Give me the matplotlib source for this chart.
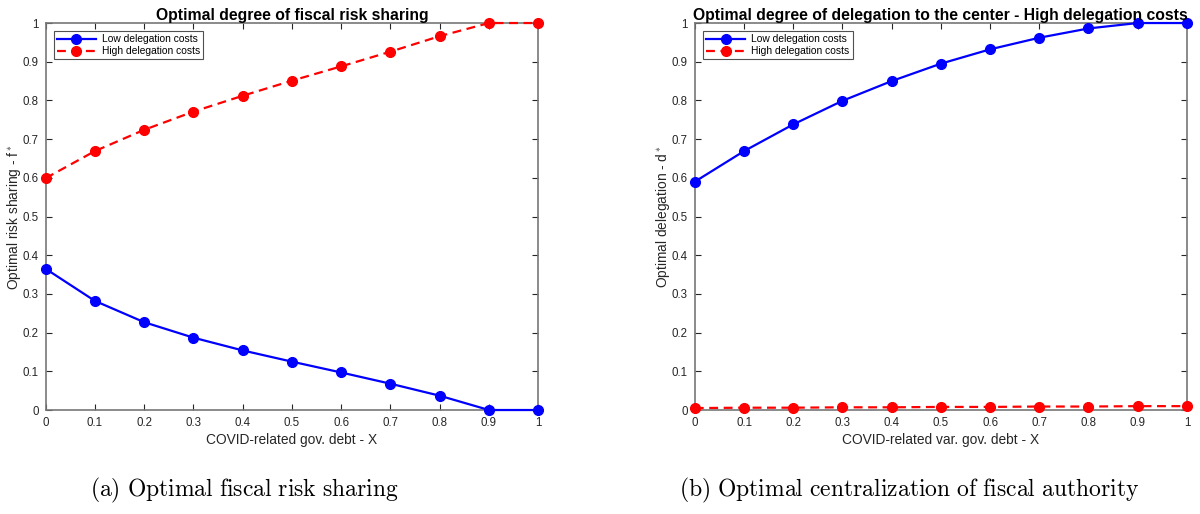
import numpy as np
import matplotlib.pyplot as plt

plt.rcParams['font.family'] = ['Liberation Sans', 'DejaVu Sans']
plt.rcParams['mathtext.fontset'] = 'cm'

x = [0, 0.1, 0.2, 0.3, 0.4, 0.5, 0.6, 0.7, 0.8, 0.9, 1.0]

# panel (a): optimal risk sharing
risk_low = [0.365, 0.282, 0.227, 0.187, 0.154, 0.125, 0.097, 0.068, 0.037, 0.0, 0.0]
risk_high = [0.599, 0.669, 0.724, 0.771, 0.812, 0.851, 0.888, 0.926, 0.966, 1.0, 1.0]

# panel (b): optimal delegation
deleg_low = [0.590, 0.669, 0.738, 0.799, 0.850, 0.895, 0.932, 0.962, 0.986, 1.0, 1.0]
deleg_high = [0.005, 0.006, 0.006, 0.007, 0.007, 0.008, 0.008, 0.009, 0.009, 0.010, 0.010]

ticks = [0, 0.1, 0.2, 0.3, 0.4, 0.5, 0.6, 0.7, 0.8, 0.9, 1]
tick_labels = ['0', '0.1', '0.2', '0.3', '0.4', '0.5', '0.6', '0.7', '0.8', '0.9', '1']

fig = plt.figure(figsize=(12, 5.14), dpi=100)
ax1 = fig.add_axes([0.038, 0.2023, 0.4105, 0.7529])
ax2 = fig.add_axes([0.579, 0.2023, 0.4101, 0.7529])

panels = [
    (ax1, risk_low, risk_high, 'Optimal degree of fiscal risk sharing',
     'COVID-related gov. debt - X', r'Optimal risk sharing - f$^*$'),
    (ax2, deleg_low, deleg_high, 'Optimal degree of delegation to the center - High delegation costs',
     'COVID-related var. gov. debt - X', r'Optimal delegation - d$^*$'),
]

axis_col = '#262626'
for ax, low, high, title, xlab, ylab in panels:
    ax.plot(x, low, '-o', color='blue', lw=1.6, ms=7, label='Low delegation costs', clip_on=False, zorder=3)
    ax.plot(x, high, '--o', color='red', lw=1.6, ms=7, dashes=(4, 2.5), label='High delegation costs', clip_on=False, zorder=3)
    ax.set_xlim(0, 1)
    ax.set_ylim(0, 1)
    ax.set_xticks(ticks)
    ax.set_xticklabels(tick_labels)
    ax.set_yticks(ticks)
    ax.set_yticklabels(tick_labels)
    ax.tick_params(direction='in', top=True, right=True, labelsize=8.3, length=4,
                   colors='#262626', labelcolor='#262626', pad=5)
    for s in ax.spines.values():
        s.set_color('#777777')
        s.set_linewidth(1.2)
    ax.set_title(title, fontsize=11.3, fontweight='bold', pad=2)
    ax.set_xlabel(xlab, fontsize=9.9, color=axis_col, labelpad=3)
    ax.set_ylabel(ylab, fontsize=9.9, color=axis_col, labelpad=0)
    leg = ax.legend(loc='upper left', fontsize=7.4, frameon=True, fancybox=False,
                    edgecolor='#262626', borderaxespad=0.8, handlelength=3.8,
                    borderpad=0.3, labelspacing=0.2, handletextpad=0.6)
    leg.get_frame().set_linewidth(0.8)

fig.text(0.204, 0.045, r'$\mathrm{(a)\ Optimal\ fiscal\ risk\ sharing}$', fontsize=17,
         ha='center', va='center')
fig.text(0.758, 0.045, r'$\mathrm{(b)\ Optimal\ centralization\ of\ fiscal\ authority}$', fontsize=17,
         ha='center', va='center')

fig.savefig('out.png', dpi=100)
